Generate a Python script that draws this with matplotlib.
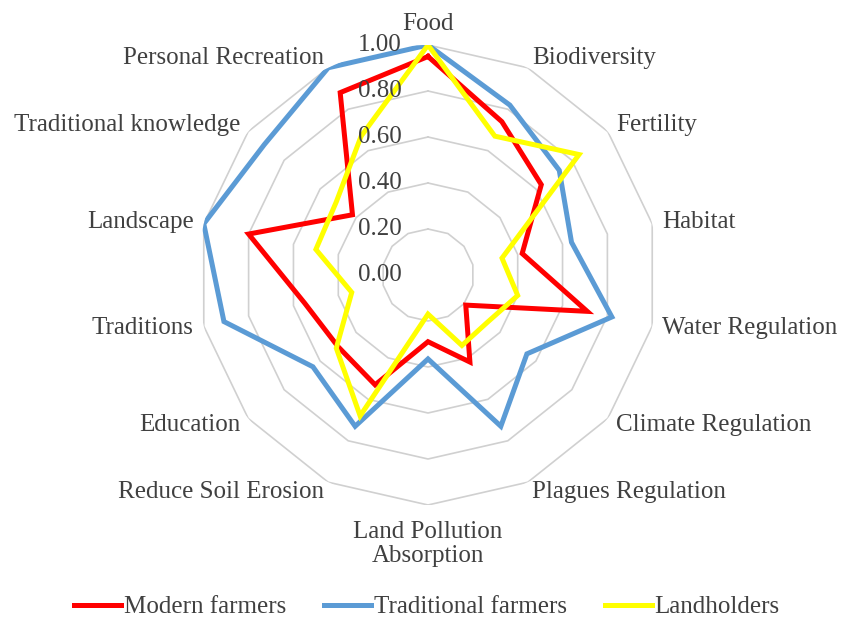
import numpy as np
import matplotlib
matplotlib.use("Agg")
import matplotlib.pyplot as plt

categories = ["Food", "Biodiversity", "Fertility", "Habitat", "Water Regulation",
              "Climate Regulation", "Plagues Regulation", "Land Pollution\nAbsorption",
              "Reduce Soil Erosion", "Education", "Traditions", "Landscape",
              "Traditional knowledge", "Personal Recreation"]
modern = [0.95, 0.74, 0.63, 0.42, 0.71, 0.21, 0.42, 0.29, 0.53, 0.50, 0.55, 0.80, 0.42, 0.88]
traditional = [1.00, 0.82, 0.73, 0.64, 0.82, 0.55, 0.73, 0.365, 0.73, 0.64, 0.91, 1.00, 0.91, 1.00]
landholders = [1.00, 0.67, 0.84, 0.33, 0.40, 0.33, 0.34, 0.17, 0.68, 0.51, 0.34, 0.50, 0.51, 0.67]
series_names = ["Modern farmers", "Traditional farmers", "Landholders"]
tick_values = [0.0, 0.2, 0.4, 0.6, 0.8, 1.0]
tick_labels = ["0.00", "0.20", "0.40", "0.60", "0.80", "1.00"]

plt.rcParams['font.family'] = ['Liberation Serif', 'DejaVu Serif']
text_color = "#404040"
fs = 18

W, H = 841, 622
fig = plt.figure(figsize=(W / 100, H / 100), dpi=100)
cx, cy, R = 428, 275, 230
ax = fig.add_axes([(cx - R) / W, (H - cy - R) / H, 2 * R / W, 2 * R / H], projection='polar')
ax.set_theta_zero_location('N')
ax.set_theta_direction(-1)
ax.set_ylim(0, 1)
ax.grid(False)
ax.spines['polar'].set_visible(False)
ax.set_xticks([])
ax.set_yticks([])
ax.patch.set_alpha(0)

n = len(categories)
angles = np.linspace(0, 2 * np.pi, n, endpoint=False)
closed = np.concatenate([angles, angles[:1]])

# polygonal grid rings
for v in tick_values[1:]:
    ax.plot(closed, [v] * (n + 1), color="#D0D0D0", lw=1.2, zorder=1)

colors = ["#FF0000", "#5B9BD5", "#FFFF00"]
handles = []
for vals, col, name in zip([modern, traditional, landholders], colors, series_names):
    v = list(vals) + [vals[0]]
    h, = ax.plot(closed, v, color=col, lw=3.6, zorder=3, label=name, solid_joinstyle='miter')
    handles.append(h)

# radial tick labels
for v, lab in zip(tick_values, tick_labels):
    ax.text(0.5 - 26 / (2 * R), 0.5 + 0.5 * v, lab, transform=ax.transAxes,
            ha='right', va='center', fontsize=fs, color=text_color, zorder=5)

# category labels
for ang, lab in zip(angles, categories):
    deg = np.degrees(ang)
    rl = 1.045
    if abs(deg) < 1:
        ha, va = 'center', 'bottom'
    elif abs(deg - 180) < 1:
        ha, va = 'center', 'top'
        rl = 1.07
    elif deg < 180:
        ha, va = 'left', 'center'
    else:
        ha, va = 'right', 'center'
    ax.text(ang, rl, lab, ha=ha, va=va, fontsize=fs, color=text_color,
            linespacing=1.1, multialignment='center')

fig.legend(handles=handles, labels=series_names, loc='center',
           bbox_to_anchor=(427 / W, (H - 607) / H), ncol=3, frameon=False,
           fontsize=fs, handlelength=1.88, handletextpad=0.12, columnspacing=1.5,
           labelcolor=text_color)

fig.savefig("out.png", dpi=100)
